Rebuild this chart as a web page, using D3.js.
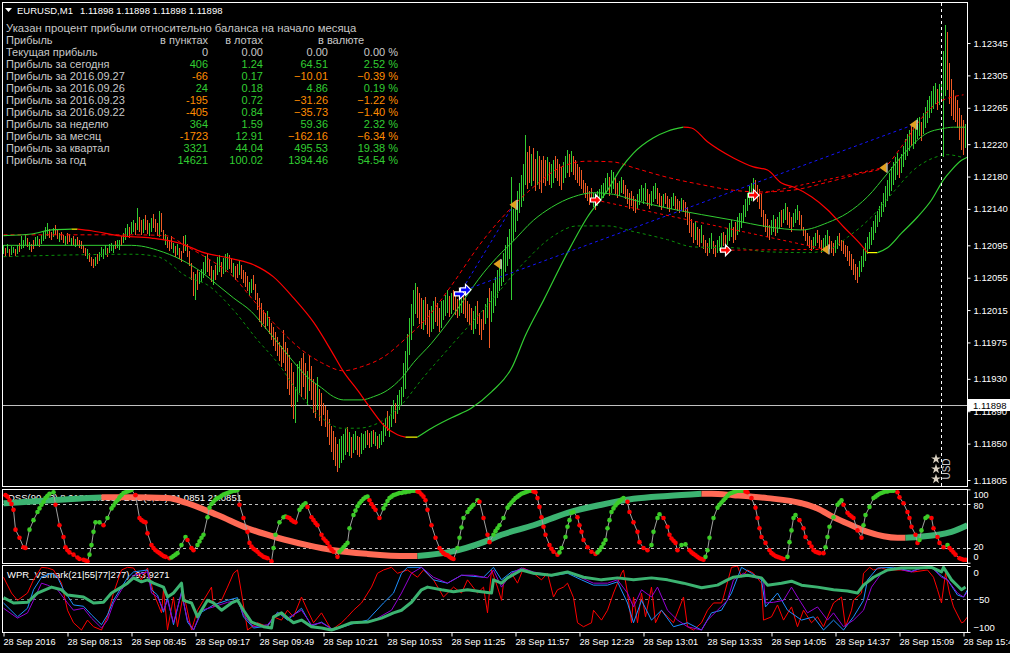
<!DOCTYPE html>
<html><head><meta charset="utf-8">
<script src="https://cdn.jsdelivr.net/npm/d3@7/dist/d3.min.js"></script>
<style>html,body{margin:0;padding:0;background:#000;overflow:hidden}svg{display:block;font-family:"Liberation Sans",Arial,sans-serif}</style>
</head><body>
<svg id="chart" width="1010" height="653"></svg>
<script>
// ================= DATA =================
const symbolTitle = "EURUSD,M1";
const quoteValues = ["1.11898", "1.11898", "1.11898", "1.11898"];
const currentPrice = 1.11898;
const BASE = 1.118, PT = 0.00001; // bar / line prices are stored in points above BASE

// 1-minute bars (lows / highs in points above BASE), 10 bars per row
const barLow = [
[284,282,286,281,283,285,282,284,287,290],[292,295,293,289,287,291,294,296,293,297],
[300,303,306,304,301,305,308,303,299,301],[298,295,297,299,294,296,293,295,292,290],
[286,282,278,274,270,267,269,272,276,280],[278,283,280,285,288,286,290,292,289,294],
[298,302,306,304,309,312,308,314,311,308],[310,314,309,306,311,316,312,307,305,312],
[302,296,292,288,290,285,280,283,278,274],[285,288,280,270,252,232,228,240,247,250],
[255,260,262,257,250,246,252,258,262,256],[259,262,264,266,261,256,252,255,258,254],
[248,244,238,232,236,240,228,215,200,194],[198,192,195,186,178,170,164,158,152,145],
[150,140,118,110,95,80,75,102,112,108],[120,105,98,115,104,88,82,92,78,72],
[85,70,58,48,40,30,22,15,20,26],[30,36,40,35,32,38,42,36,33,37],
[42,45,48,44,46,50,47,43,45,48],[52,60,66,58,70,80,76,86,92,98],
[108,118,140,160,178,195,210,205,198,192],[190,196,186,182,188,192,200,195,188,193],
[203,208,212,206,210,215,209,205,208,212],[210,205,200,196,190,186,192,198,184,178],
[190,198,205,168,200,212,220,230,238,245],[250,262,270,278,227,300,312,325,335,342],
[350,370,365,372,368,375,362,370,365,360],[372,368,375,370,366,372,378,374,368,363],
[372,378,384,380,386,382,376,372,368,364],[360,354,350,345,348,342,339,344,348,352],
[354,358,362,356,360,364,358,354,356,360],[358,352,346,340,344,338,335,340,345,350],
[346,350,344,340,344,348,352,346,342,339],[342,346,340,336,340,344,340,338,335,339],
[336,330,320,310,305,298,302,296,293,298],[290,285,282,286,290,284,280,285,288,292],
[294,290,296,300,305,298,302,308,312,316],[322,330,338,345,350,355,352,348,340,330],
[318,312,305,302,308,312,306,310,315,318],[322,326,320,316,312,318,322,326,320,314],
[306,300,296,292,288,290,294,298,292,286],[288,292,296,290,286,282,286,290,294,288],
[284,280,276,270,264,258,252,248,256,262],[268,276,284,290,296,302,310,318,324,330],
[336,342,350,356,362,370,376,382,378,384],[392,400,406,412,418,414,420,426,430,424],
[432,440,446,452,458,464,470,462,468,474],[404,480,487,470,455,450,448,440,425,413],
[407,415]].flat();
const barHigh = [
[296,292,297,290,294,293,291,295,298,306],[302,308,304,299,297,301,305,306,303,308],
[312,318,322,315,311,317,320,314,310,312],[308,306,310,309,304,307,303,305,302,300],
[295,292,290,286,281,278,280,284,287,293],[290,295,292,297,298,296,300,302,301,306],
[310,316,321,318,324,326,322,341,330,326],[328,332,326,322,329,334,327,323,337,335],
[314,309,305,301,306,298,294,297,292,288],[306,308,297,288,273,262,259,265,262,266],
[275,282,286,278,270,265,271,280,283,274],[279,284,286,283,279,273,270,272,276,271],
[264,262,257,250,254,258,247,236,230,224],[215,212,214,206,199,194,188,182,176,170],
[190,175,168,160,150,138,120,148,152,156],[162,150,140,158,146,130,124,132,118,112],
[100,96,92,80,72,66,58,50,56,60],[62,68,70,64,58,62,66,60,58,63],
[62,66,67,63,65,67,64,60,62,66],[75,82,90,84,96,104,100,110,116,120],
[150,165,185,205,222,240,248,244,236,230],[228,231,222,215,220,226,231,224,218,226],
[228,234,240,232,236,240,233,229,232,238],[234,230,226,222,218,214,220,226,212,204],
[215,222,230,242,238,248,256,264,270,277],[285,296,305,315,379,340,350,362,372,382],
[395,431,410,418,408,415,402,412,405,400],[406,400,404,398,395,400,406,402,396,392],
[398,405,413,408,412,406,400,396,392,388],[376,372,368,362,366,360,356,362,365,370],
[372,378,385,380,388,386,378,372,374,380],[376,370,364,360,362,356,352,358,364,370],
[366,372,364,358,362,368,372,366,360,356],[358,360,356,352,355,360,356,352,350,354],
[351,348,342,335,328,322,325,318,315,320],[308,302,298,304,310,300,296,302,306,310],
[312,308,316,322,326,318,324,330,335,335],[345,352,360,368,372,378,376,370,364,358],
[339,334,328,320,326,332,328,330,336,339],[340,347,342,336,330,335,340,345,338,332],
[318,314,310,306,302,305,310,314,308,302],[304,308,314,306,300,298,302,306,310,302],
[300,296,294,288,284,278,272,268,276,282],[290,298,305,312,318,325,332,338,343,348],
[360,368,376,384,392,398,404,409,402,408],[418,426,432,438,444,440,446,452,454,448],
[458,466,474,480,486,492,496,488,494,498],[535,567,559,520,500,487,480,475,465,456],
[450,445]].flat();
// 1 = bullish (green) bar, 0 = bearish (orange) bar
const barUp = [
"1010110101","1101001101","1110010010","0100101000","0010001011","1101110110",
"1110110100","1001100010","0100010100","0100001011","1100010110","1110010010",
"0001100000","0010000000","0000001110","0010000100","0000000011","1101011001",
"1100101011","1101110111","1111111000","1000110001","1110100011","0000011000",
"0110111111","1111111111","1100100100","0010110000","1110100000","0000010111",
"1110110011","0000000111","1100111000","1000110001","0000001001","0001100111",
"0011100111","1111110000","0000110110","1100011100","0000011000","1110001100",
"0000000011","1111111111","1111111101","1111011110","1111111011","1100000000","01"].join("");

// Main-chart indicator lines: [bar index, points above BASE]
const midLine = [[0,295],[64,295],[69,294],[77,289],[89,277],[99,262],[107,246],[115,230],[124,213],[132,190],[140,166],[145,151],[152,132],[159,119],[165,108],[170,104],[179,104],[185,108],[192,116],[199,131],[205,150],[214,174],[222,199],[230,227],[240,261],[249,286],[254,298],[265,326],[274,342],[285,355],[295,360],[305,358],[315,351],[332,341],[349,333],[365,326],[382,318],[399,314],[412,323],[422,335],[432,355],[442,384],[452,413],[462,434],[469,439],[475,441],[481,441]];
const lowerBand = [[0,281],[65,284],[77,281],[92,256],[102,246],[115,215],[127,178],[137,150],[149,108],[159,82],[169,69],[177,69],[187,75],[199,98],[209,129],[222,166],[244,227],[260,273],[274,305],[287,319],[302,319],[315,312],[332,302],[345,293],[365,292],[382,287],[402,286],[412,289],[422,305],[434,330],[445,361],[455,388],[465,403],[472,407],[479,404]];
const upperBand = [[0,308],[64,308],[81,307],[92,293],[102,279],[115,256],[125,227],[137,194],[149,166],[159,150],[170,140],[179,145],[190,157],[202,182],[212,206],[223,242],[240,302],[265,367],[279,392],[292,399],[305,398],[315,391],[332,379],[349,370],[365,363],[379,361],[394,363],[412,373],[429,384],[440,391],[449,417],[459,452],[467,471],[480,481]];
const slowLine = [[0,307],[14,309],[24,314],[34,315],[37,315],[44,313],[57,307],[74,304],[89,297],[99,287],[115,278],[125,271],[135,256],[145,230],[155,200],[165,160],[170,139],[177,116],[184,92],[190,73],[197,61],[201,58],[207,58],[214,69],[224,82],[234,94],[244,114],[254,143],[261,184],[270,227],[282,286],[292,330],[302,363],[309,391],[315,409],[325,428],[332,436],[340,441],[344,440],[352,423],[365,403],[375,392],[382,388],[389,372],[395,367],[404,355],[412,339],[420,318],[429,295],[432,286],[437,286],[442,292],[449,310],[457,330],[464,351],[470,376],[474,388],[479,400],[482,404]];

// Signals: [entry bar, entry pts, exit bar, exit pts]
const buyTrades  = [[228,235,255,345],[231,240,455,444]];
const sellTrades = [[296,351,411,290],[361,289,411,290],[375,357,440,391]];
const exitMarks  = [[255,345],[247,272],[455,444],[440,391],[411,290]];
const buyMarks   = [[228,235],[231,240]];
const sellMarks  = [[296,351],[361,289],[375,357]];

// Price-axis and time-axis labels
const priceTicks = [1.12345,1.12305,1.12265,1.12220,1.12180,1.12140,1.12095,1.12055,1.12015,1.11975,1.11930,1.11890,1.11850,1.11805];
const timeTickBars = [0,32,64,96,128,160,192,224,256,288,320,352,384,416,448,480];
const timeLabels = ["28 Sep 2016","28 Sep 08:13","28 Sep 08:45","28 Sep 09:17","28 Sep 09:49","28 Sep 10:21","28 Sep 10:53","28 Sep 11:25","28 Sep 11:57","28 Sep 12:29","28 Sep 13:01","28 Sep 13:33","28 Sep 14:05","28 Sep 14:37","28 Sep 15:09","28 Sep 15:41"];

// Profit table
const tableNote = "Указан процент прибыли относительно баланса на начало месяца";
const tableHeads = ["Прибыль","в пунктах","в лотах","в валюте"];
const rowLabels = ["Текущая прибыль","Прибыль за сегодня","Прибыль за 2016.09.27","Прибыль за 2016.09.26","Прибыль за 2016.09.23","Прибыль за 2016.09.22","Прибыль за неделю","Прибыль за месяц","Прибыль за квартал","Прибыль за год"];
const profitPoints = [0,406,-66,24,-195,-405,364,-1723,3321,14621];
const profitLots = [0.00,1.24,0.17,0.18,0.72,0.84,1.59,12.91,44.04,100.02];
const profitMoney = [0.00,64.51,-10.01,4.86,-31.26,-35.73,59.36,-162.16,495.53,1394.46];
const profitPct = [0.00,2.52,-0.39,0.19,-1.22,-1.40,2.32,-6.34,19.38,54.54];

// DSS panel
const dssLabel = "DSS(90,13) 8.9181 8.9181  DSS(8,13) 21.0851 21.0851";
const dssLevels = [80,20];
const dssTicks = [100,80,20,0];
const dssSlow = [[0,81],[24,85],[49,89],[64,89],[82,88],[92,81],[107,65],[122,47],[137,34],[152,24],[165,17],[182,12],[202,9],[207,9],[224,15],[240,28],[249,38],[265,51],[282,68],[299,79],[315,87],[332,91],[349,94],[354,94],[365,92],[382,88],[399,81],[407,74],[415,62],[424,51],[432,42],[447,34],[451,34],[457,35],[474,42],[482,51]];
const dssFast = [[1,92],[2,90],[3,85],[4,80],[5,72],[6,45],[8,34],[10,21],[11,20],[13,45],[15,58],[17,69],[18,74],[19,79],[20,83],[21,88],[22,91],[23,94],[25,96],[26,79],[28,51],[30,35],[31,21],[32,17],[33,14],[35,11],[37,7],[38,5],[40,4],[41,3],[42,2],[43,11],[44,24],[45,42],[46,55],[48,55],[50,51],[52,61],[54,74],[55,78],[56,82],[57,85],[58,89],[59,92],[60,95],[61,96],[62,97],[63,98],[64,99],[66,92],[68,61],[69,58],[70,56],[71,55],[72,40],[74,24],[75,20],[76,17],[77,15],[78,13],[79,11],[80,9],[81,8],[83,6],[84,7],[85,9],[86,11],[87,13],[89,24],[91,35],[92,31],[94,20],[95,17],[97,24],[98,29],[99,34],[100,38],[102,62],[103,75],[104,80],[105,83],[106,86],[107,88],[108,89],[109,91],[110,93],[111,94],[112,95],[113,96],[114,97],[115,98],[116,98],[117,99],[118,79],[120,61],[122,42],[123,27],[124,22],[125,19],[126,17],[127,15],[128,12],[129,10],[130,8],[131,7],[132,6],[134,2],[135,20],[136,38],[138,55],[140,62],[141,63],[142,62],[143,61],[144,58],[145,56],[146,55],[148,72],[149,76],[150,79],[151,81],[152,76],[154,62],[155,58],[156,54],[157,51],[159,38],[160,33],[161,30],[162,27],[163,22],[164,18],[165,15],[167,8],[168,15],[169,18],[170,21],[171,24],[172,27],[173,47],[175,65],[176,71],[177,77],[178,81],[179,84],[180,87],[181,89],[182,90],[183,85],[184,80],[185,76],[186,72],[188,61],[190,74],[191,79],[192,84],[193,88],[194,90],[195,92],[196,93],[197,94],[198,95],[199,95],[200,96],[201,96],[202,97],[203,97],[204,98],[205,98],[206,98],[207,97],[208,96],[209,93],[210,90],[211,85],[212,72],[214,51],[216,34],[218,20],[219,16],[220,13],[221,11],[222,10],[223,8],[224,6],[225,5],[227,20],[228,34],[229,48],[230,61],[232,69],[233,73],[234,76],[235,79],[237,85],[238,83],[240,61],[242,38],[243,28],[245,38],[246,43],[247,47],[248,51],[250,61],[252,75],[253,79],[254,82],[255,85],[256,88],[257,90],[258,92],[259,94],[260,95],[261,96],[262,97],[263,98],[264,98],[265,97],[266,96],[267,88],[268,76],[269,62],[270,49],[271,38],[273,24],[274,19],[275,15],[277,11],[278,14],[279,20],[281,35],[282,49],[283,58],[284,68],[285,69],[287,62],[288,51],[289,42],[290,31],[292,21],[294,15],[296,12],[297,14],[298,17],[299,21],[300,26],[301,31],[302,47],[303,58],[304,69],[305,74],[306,78],[307,81],[308,84],[309,86],[310,88],[312,83],[313,69],[315,55],[317,42],[318,28],[320,20],[322,17],[324,24],[325,42],[327,61],[328,66],[330,61],[332,49],[333,38],[334,33],[335,30],[336,27],[337,17],[339,24],[341,25],[343,17],[344,14],[345,12],[346,10],[347,8],[348,6],[349,5],[350,4],[351,8],[352,17],[353,34],[355,61],[357,75],[358,79],[359,82],[360,85],[361,88],[362,91],[363,94],[364,95],[365,96],[366,97],[367,98],[368,98],[369,98],[370,98],[371,97],[372,96],[374,88],[376,75],[377,61],[378,47],[379,35],[381,27],[383,17],[384,13],[385,11],[386,9],[387,8],[388,7],[389,6],[390,5],[392,8],[393,28],[394,44],[395,61],[396,65],[398,58],[400,47],[401,35],[403,27],[404,22],[405,17],[406,15],[407,14],[408,13],[410,13],[411,21],[412,35],[413,49],[415,62],[417,79],[418,82],[419,85],[420,79],[422,68],[423,65],[424,63],[425,61],[427,44],[429,34],[430,51],[431,65],[433,76],[435,88],[436,90],[437,92],[438,94],[439,95],[440,96],[441,97],[442,97],[443,98],[444,98],[445,98],[447,96],[448,89],[450,81],[452,69],[453,61],[454,49],[456,38],[457,27],[458,31],[459,44],[461,61],[462,63],[464,61],[465,47],[467,35],[468,27],[470,21],[472,24],[473,20],[474,17],[475,14],[476,11],[478,6],[479,5],[480,4],[481,4]];

// WPR panel
const wprLabel = "WPR_VSmark(21|55|77|277) -93.9271";
const wprTicks = [0,-50,-100];
const wprGreen = [[0,-48],[5,-56],[12,-55],[17,-41],[24,-32],[29,-36],[32,-44],[40,-47],[45,-56],[50,-55],[54,-41],[59,-32],[62,-26],[65,-18],[69,-24],[72,-21],[75,-26],[80,-32],[82,-47],[85,-41],[89,-26],[90,-52],[94,-56],[97,-77],[99,-67],[102,-52],[105,-56],[109,-67],[114,-56],[117,-52],[120,-67],[124,-85],[130,-92],[134,-94],[135,-77],[139,-71],[142,-79],[145,-86],[149,-82],[154,-92],[159,-94],[164,-97],[167,-94],[174,-86],[182,-85],[189,-79],[195,-71],[199,-67],[204,-55],[209,-36],[212,-32],[219,-36],[225,-39],[232,-36],[239,-39],[244,-41],[245,-21],[249,-26],[252,-18],[259,-6],[265,-11],[274,-14],[282,-9],[290,-17],[299,-21],[307,-18],[315,-21],[324,-18],[332,-21],[340,-26],[349,-33],[357,-29],[362,-21],[365,-17],[372,-14],[379,-18],[382,-29],[389,-26],[394,-23],[399,-29],[407,-32],[415,-36],[422,-38],[427,-41],[430,-29],[435,-17],[442,-6],[449,-3],[457,-3],[464,-2],[469,-9],[470,-2],[474,-21],[479,-36],[481,-32]];
const wprPurple = [[0,-64],[7,-79],[12,-71],[15,-52],[19,-26],[22,-29],[27,-36],[32,-56],[35,-67],[40,-64],[44,-79],[49,-94],[52,-82],[55,-56],[59,-36],[62,-24],[65,-14],[72,-9],[74,-41],[77,-47],[80,-67],[82,-52],[85,-86],[89,-41],[92,-82],[95,-97],[99,-67],[105,-62],[112,-55],[117,-52],[120,-74],[125,-92],[132,-89],[137,-71],[142,-79],[149,-67],[154,-89],[159,-86],[165,-97],[174,-86],[182,-85],[187,-79],[194,-67],[199,-41],[204,-11],[209,-2],[215,-17],[222,-26],[229,-14],[235,-14],[242,-18],[245,-6],[249,-32],[254,-11],[259,-3],[265,-9],[274,-14],[282,-9],[289,-18],[295,-26],[302,-26],[307,-21],[312,-41],[315,-62],[319,-36],[324,-47],[327,-32],[332,-67],[337,-82],[342,-92],[349,-97],[352,-82],[357,-67],[362,-52],[365,-21],[370,-11],[375,-17],[380,-21],[381,-56],[385,-55],[390,-52],[394,-32],[397,-47],[402,-71],[407,-62],[412,-82],[415,-71],[420,-92],[425,-82],[430,-67],[434,-32],[439,-11],[445,-3],[454,-9],[459,-3],[464,-2],[469,-17],[472,-21],[477,-41],[480,-47],[482,-39]];
const wprBlue = [[0,-56],[7,-77],[12,-64],[15,-36],[19,-17],[24,-11],[27,-17],[30,-36],[35,-59],[40,-61],[44,-74],[49,-89],[52,-74],[55,-52],[59,-32],[62,-18],[65,-9],[72,-6],[74,-36],[77,-44],[80,-70],[82,-48],[85,-89],[89,-39],[92,-85],[95,-97],[99,-70],[105,-59],[112,-52],[117,-48],[120,-77],[125,-94],[132,-91],[137,-70],[142,-82],[149,-64],[154,-91],[159,-85],[165,-97],[174,-88],[182,-82],[190,-56],[195,-41],[199,-11],[202,-2],[209,-2],[215,-21],[222,-26],[229,-14],[240,-17],[245,-2],[249,-21],[254,-9],[259,-5],[265,-12],[274,-15],[282,-11],[289,-21],[295,-29],[302,-29],[307,-24],[312,-56],[315,-86],[319,-52],[324,-82],[329,-67],[335,-92],[342,-86],[349,-97],[354,-71],[359,-67],[364,-41],[369,-2],[374,-11],[379,-21],[381,-62],[387,-41],[392,-67],[399,-82],[405,-77],[410,-97],[415,-82],[420,-97],[425,-77],[430,-52],[432,-21],[437,-3],[445,-2],[454,-8],[459,-3],[464,-2],[469,-15],[472,-21],[477,-44],[480,-47],[482,-36]];
const wprRed = [[0,-17],[4,-41],[7,-52],[12,-41],[15,-21],[19,-2],[22,-3],[25,-6],[29,-26],[32,-67],[35,-86],[39,-97],[42,-82],[45,-92],[49,-97],[52,-77],[55,-41],[59,-6],[62,-2],[65,-3],[69,-21],[72,-3],[75,-41],[79,-71],[80,-36],[82,-97],[85,-47],[87,-92],[90,-41],[94,-97],[97,-67],[100,-52],[104,-32],[105,-62],[109,-52],[112,-32],[115,-11],[117,-6],[119,-41],[122,-97],[127,-86],[132,-92],[135,-77],[139,-82],[142,-67],[145,-77],[149,-47],[152,-67],[155,-86],[159,-71],[164,-97],[169,-86],[172,-77],[175,-67],[179,-56],[184,-32],[187,-11],[190,-6],[194,-2],[197,-11],[202,-6],[207,-17],[210,-6],[215,-21],[220,-47],[225,-32],[229,-41],[232,-21],[237,-41],[240,-32],[242,-71],[244,-6],[247,-32],[249,-52],[250,-26],[254,-11],[257,-26],[260,-3],[265,-11],[269,-21],[272,-11],[275,-47],[277,-36],[280,-32],[282,-26],[285,-48],[287,-86],[290,-92],[294,-86],[295,-67],[299,-82],[302,-67],[305,-41],[309,-11],[310,-6],[312,-41],[314,-86],[315,-47],[317,-86],[319,-41],[321,-77],[324,-32],[326,-86],[329,-67],[332,-77],[335,-86],[340,-47],[342,-92],[345,-97],[349,-86],[352,-67],[355,-56],[359,-56],[360,-47],[364,-2],[367,0],[369,-17],[372,-6],[375,-11],[379,-26],[380,-82],[384,-77],[387,-59],[390,-82],[394,-62],[397,-92],[400,-67],[404,-86],[407,-77],[410,-92],[415,-56],[419,-47],[421,-92],[424,-67],[425,-52],[429,-41],[430,-11],[433,-2],[435,-6],[439,-3],[442,-6],[449,-6],[455,-9],[462,-6],[465,-17],[467,-36],[469,-56],[471,-11],[473,-41],[475,-62],[479,-86],[480,-85],[482,-77]];

// ================= RENDER =================
const C = {bg:"#000", frame:"#ffffff", txt:"#ffffff", tbl:"#c8c8c8", up:"#32cd32", dn:"#f05a24",
  mid:"#32cd32", lowB:"#0a8f0a", upB:"#ff0000", red:"#ff0000", yel:"#ffff00", blue:"#1414ff",
  gold:"#e0a020", pos:"#32cd32", neg:"#ff8c00", dssUp:"#3cb371", dssDn:"#ff6a55", dotUp:"#3ccc28", dotDn:"#ff0000",
  wR:"#ff0000", wB:"#1e90ff", wP:"#9400d3", wG:"#3cb371"};
const svg = d3.select("#chart");
svg.append("rect").attr("width",1010).attr("height",653).attr("fill",C.bg);

const xs = d3.scaleLinear().domain([0,481]).range([3.5,965.5]);
const yP = d3.scaleLinear().domain([1.117976,1.123957]).range([486,2]);
const yD = d3.scaleLinear().domain([0,100]).range([562.7,489.3]);
const yW = d3.scaleLinear().domain([-100,0]).range([632,566]);
const P = v => BASE + v*PT;

const defs = svg.append("defs");
defs.append("clipPath").attr("id","cm").append("rect").attr("x",3).attr("y",3).attr("width",964).attr("height",483);
defs.append("clipPath").attr("id","cd").append("rect").attr("x",3).attr("y",489).attr("width",964).attr("height",74);
defs.append("clipPath").attr("id","cw").append("rect").attr("x",3).attr("y",566).attr("width",964).attr("height",66);

// ---- main panel ----
const gM = svg.append("g").attr("clip-path","url(#cm)");
const yCur = Math.round(yP(currentPrice))+0.5;
gM.append("line").attr("x1",3).attr("x2",967).attr("y1",yCur).attr("y2",yCur).attr("stroke","#c0c0c0");

const bars = barLow.map((lo,i)=>({i, lo, hi:barHigh[i], up:barUp[i]==="1"}));
gM.append("g").attr("shape-rendering","crispEdges").selectAll("line").data(bars).join("line")
  .attr("x1",d=>xs(d.i)).attr("x2",d=>xs(d.i))
  .attr("y1",d=>Math.round(yP(P(d.lo)))).attr("y2",d=>Math.round(yP(P(d.hi))))
  .attr("stroke",d=>d.up?C.up:C.dn).attr("stroke-width",1);

const lineP = d3.line().x(d=>xs(d[0])).y(d=>yP(P(d[1]))).curve(d3.curveMonotoneX);
gM.append("path").attr("d",lineP(lowerBand)).attr("fill","none").attr("stroke",C.lowB).attr("stroke-dasharray","3,3");
gM.append("path").attr("d",lineP(upperBand)).attr("fill","none").attr("stroke",C.upB).attr("stroke-dasharray","4,3");
gM.append("path").attr("d",lineP(midLine)).attr("fill","none").attr("stroke",C.mid);

function slopeRuns(pts, thr, up, dn, flat){
  const runs=[]; let cur=null;
  for(let k=1;k<pts.length;k++){
    const a=pts[k-1], b=pts[k];
    const s=(b[1]-a[1])/(b[0]-a[0]);
    const c = Math.abs(s)<thr ? flat : (s>0?up:dn);
    if(cur && cur.c===c) cur.p.push(b); else {cur={c,p:[a,b]}; runs.push(cur);}
  }
  return runs;
}
slopeRuns(slowLine,0.05,C.mid,C.red,C.yel).forEach(r=>{
  gM.append("path").attr("d",lineP(r.p)).attr("fill","none").attr("stroke",r.c).attr("stroke-width",1.2);
});

// trade lines
buyTrades.forEach(t=>gM.append("line").attr("x1",xs(t[0])).attr("y1",yP(P(t[1]))).attr("x2",xs(t[2])).attr("y2",yP(P(t[3])))
  .attr("stroke",C.blue).attr("stroke-dasharray","3,3"));
sellTrades.forEach(t=>gM.append("line").attr("x1",xs(t[0])).attr("y1",yP(P(t[1]))).attr("x2",xs(t[2])).attr("y2",yP(P(t[3])))
  .attr("stroke",C.red).attr("stroke-dasharray","3,3"));

// markers
const arrowPath = "M-5,-2L0,-2L0,-5.5L5.5,0L0,5.5L0,2L-5,2Z";
buyMarks.forEach(m=>gM.append("path").attr("d",arrowPath).attr("transform",`translate(${xs(m[0])},${yP(P(m[1]))})`)
  .attr("fill","#0000ff").attr("stroke","#ffffff").attr("stroke-width",1.2));
sellMarks.forEach(m=>gM.append("path").attr("d",arrowPath).attr("transform",`translate(${xs(m[0])},${yP(P(m[1]))})`)
  .attr("fill","#ff0000").attr("stroke","#ffffff").attr("stroke-width",1.2));
exitMarks.forEach(m=>{
  const g=gM.append("g").attr("transform",`translate(${xs(m[0])},${yP(P(m[1]))})`);
  g.append("path").attr("d","M-4,0L3,-5L3,5Z").attr("fill",C.gold);
  g.append("line").attr("x1",3.5).attr("x2",3.5).attr("y1",-5).attr("y2",5).attr("stroke","#ffffff");
});

// vertical dashed separator
gM.append("line").attr("x1",941.5).attr("x2",941.5).attr("y1",3).attr("y2",486).attr("stroke","#ffffff").attr("stroke-dasharray","3,3");
// USD and stars
svg.append("text").attr("transform","translate(950,469) rotate(-90)").attr("text-anchor","middle")
  .attr("font-size","10px").attr("fill","#c8c8c8").text("USD");
[459,469,479].forEach(yy=>svg.append("path").attr("d",d3.symbol(d3.symbolStar,30)()).attr("transform",`translate(936,${yy})`).attr("fill","#d8cfc0"));

// ---- title & table ----
svg.append("path").attr("d","M5,8L12,8L8.5,12Z").attr("fill","#ffffff");
svg.append("text").attr("x",17).attr("y",14).attr("font-size","9.5px").attr("fill",C.txt).text(symbolTitle);
svg.append("text").attr("x",80).attr("y",14).attr("font-size","9.5px").attr("fill",C.txt).text(quoteValues.join(" "));

const tb = svg.append("g").attr("font-size","11px");
tb.append("text").attr("x",6).attr("y",32).attr("fill",C.tbl).attr("font-size","11.3px").text(tableNote);
tb.append("text").attr("x",6).attr("y",44).attr("fill",C.tbl).text(tableHeads[0]);
tb.append("text").attr("x",208).attr("y",44).attr("text-anchor","end").attr("fill",C.tbl).text(tableHeads[1]);
tb.append("text").attr("x",263).attr("y",44).attr("text-anchor","end").attr("fill",C.tbl).text(tableHeads[2]);
tb.append("text").attr("x",318).attr("y",44).attr("fill",C.tbl).text(tableHeads[3]);
const f2 = d3.format(".2f");
rowLabels.forEach((lab,i)=>{
  const y = 56 + 12*i;
  const col = v => i===0 ? C.tbl : (v<0 ? C.neg : C.pos);
  tb.append("text").attr("x",6).attr("y",y).attr("fill",C.tbl).text(lab);
  tb.append("text").attr("x",208).attr("y",y).attr("text-anchor","end").attr("fill",col(profitPoints[i])).text(profitPoints[i]);
  tb.append("text").attr("x",263).attr("y",y).attr("text-anchor","end").attr("fill",col(profitLots[i])).text(f2(profitLots[i]));
  tb.append("text").attr("x",328).attr("y",y).attr("text-anchor","end").attr("fill",col(profitMoney[i])).text(f2(profitMoney[i]));
  tb.append("text").attr("x",398).attr("y",y).attr("text-anchor","end").attr("fill",col(profitPct[i])).text(f2(profitPct[i])+" %");
});

// ---- price axis ----
const ax = svg.append("g").attr("transform","translate(967.5,0)")
  .call(d3.axisRight(yP).tickValues(priceTicks).tickFormat(d3.format(".5f")).tickSize(3).tickPadding(3));
ax.select(".domain").remove();
ax.selectAll("line").attr("stroke","#ffffff");
ax.selectAll("text").attr("fill","#ffffff").attr("font-size","9.5px").attr("font-family","Liberation Sans, Arial, sans-serif");
// current price tag (covers the nearby 1.11890 label as in the terminal)
svg.append("rect").attr("x",968).attr("y",yCur-6.5).attr("width",42).attr("height",12).attr("fill","#ffffff");
svg.append("text").attr("x",973).attr("y",yCur+3.5).attr("font-size","9.5px").attr("fill","#000").text(d3.format(".5f")(currentPrice));

// ---- DSS panel ----
const gD = svg.append("g");
dssLevels.forEach(v=>gD.append("line").attr("x1",3).attr("x2",967).attr("y1",Math.round(yD(v))+0.5).attr("y2",Math.round(yD(v))+0.5)
  .attr("stroke","#c0c0c0").attr("stroke-dasharray","3,3"));
gD.append("text").attr("x",8).attr("y",501).attr("font-size","9.5px").attr("fill","#ffffff").text(dssLabel);
const gDc = gD.append("g").attr("clip-path","url(#cd)");
const lineD = d3.line().x(d=>xs(d[0])).y(d=>yD(d[1])).curve(d3.curveMonotoneX);
slopeRuns(dssSlow,0.0001,C.dssUp,C.dssDn,C.dssDn).forEach(r=>{
  gDc.append("path").attr("d",lineD(r.p)).attr("fill","none").attr("stroke",r.c).attr("stroke-width",6);
});
gDc.append("path").attr("d",d3.line().x(d=>xs(d[0])).y(d=>yD(d[1]))(dssFast)).attr("fill","none").attr("stroke","#a0a0a0").attr("stroke-width",1);
let lastCol = C.dotDn;
const fastCols = dssFast.map((d,k)=>{ if(k>0){ if(d[1]>dssFast[k-1][1]) lastCol=C.dotUp; else if(d[1]<dssFast[k-1][1]) lastCol=C.dotDn; } return lastCol; });
gDc.selectAll("circle").data(dssFast).join("circle").attr("cx",d=>xs(d[0])).attr("cy",d=>yD(d[1])).attr("r",2.3)
  .attr("fill",(d,k)=>fastCols[k]);
const axD = svg.append("g").attr("transform","translate(967.5,0)").call(d3.axisRight(yD).tickValues(dssTicks).tickSize(3).tickPadding(3));
axD.select(".domain").remove();
axD.selectAll("line").attr("stroke","#ffffff");
axD.selectAll("text").attr("fill","#ffffff").attr("font-size","9px").attr("font-family","Liberation Sans, Arial, sans-serif")
  .attr("dy",d=>d===100?"0.95em":(d===0?"-0.35em":(d===80?"0.5em":"0.2em")));

// ---- WPR panel ----
const gW = svg.append("g");
gW.append("line").attr("x1",3).attr("x2",967).attr("y1",Math.round(yW(-50))+0.5).attr("y2",Math.round(yW(-50))+0.5)
  .attr("stroke","#808080").attr("stroke-dasharray","3,3");
gW.append("text").attr("x",7).attr("y",578).attr("font-size","9.5px").attr("fill","#ffffff").text(wprLabel);
const gWc = gW.append("g").attr("clip-path","url(#cw)");
const lineW = d3.line().x(d=>xs(d[0])).y(d=>yW(d[1]));
[[wprRed,C.wR,1],[wprBlue,C.wB,1],[wprPurple,C.wP,1],[wprGreen,C.wG,3]].forEach(s=>{
  gWc.append("path").attr("d",lineW(s[0])).attr("fill","none").attr("stroke",s[1]).attr("stroke-width",s[2]).attr("stroke-linejoin","round");
});
const axW = svg.append("g").attr("transform","translate(967.5,0)").call(d3.axisRight(yW).tickValues(wprTicks).tickFormat(d3.format("d")).tickSize(3).tickPadding(3));
axW.select(".domain").remove();
axW.selectAll("line").attr("stroke","#ffffff");
axW.selectAll("text").attr("fill","#ffffff").attr("font-size","9.5px").attr("font-family","Liberation Sans, Arial, sans-serif")
  .attr("dy",d=>d===0?"0.95em":(d===-100?"-0.2em":"0.32em"));

// ---- frames ----
const frame = (y0,y1)=>svg.append("rect").attr("x",2.5).attr("y",y0).attr("width",965).attr("height",y1-y0)
  .attr("fill","none").attr("stroke",C.frame).attr("shape-rendering","crispEdges");
frame(2.5,486.5); frame(489.5,563.5); frame(565.5,632.5);

// ---- time axis ----
const axT = svg.append("g").attr("transform","translate(0,632.5)")
  .call(d3.axisBottom(xs).tickValues(timeTickBars).tickFormat((d,i)=>timeLabels[i]).tickSize(4).tickPadding(2));
axT.select(".domain").remove();
axT.selectAll("line").attr("stroke","#ffffff");
axT.selectAll("text").attr("fill","#ffffff").attr("font-size","9.2px").attr("font-family","Liberation Sans, Arial, sans-serif")
  .attr("text-anchor","start").attr("x",-0.5);
</script>
</body></html>
